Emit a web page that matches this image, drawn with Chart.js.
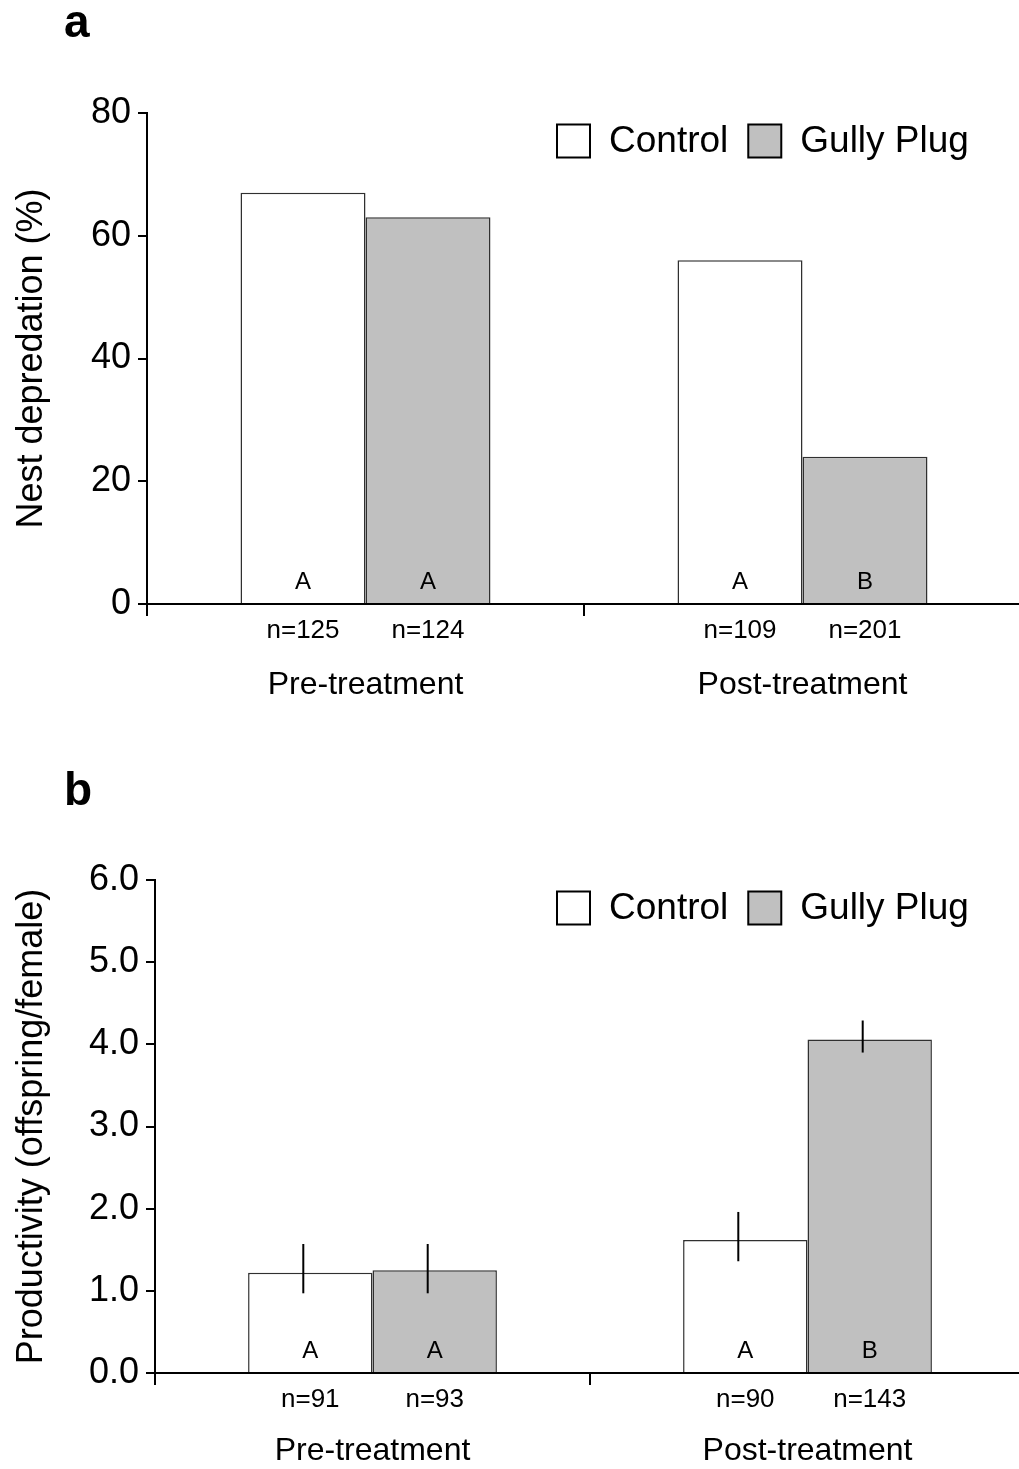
<!DOCTYPE html>
<html>
<head>
<meta charset="utf-8">
<script src="https://cdn.jsdelivr.net/npm/chart.js@4.4.1/dist/chart.umd.min.js"></script>
<style>
    html, body { margin: 0; padding: 0; background: #fff; overflow: hidden; width: 1019px; height: 1469px; }
    canvas { position: absolute; left: 0; }
    #chartA { top: 0; }
    #chartB { top: 745px; }
</style>
</head>
<body>
<canvas id="chartA" width="1021" height="740"></canvas>
<canvas id="chartB" width="1025" height="724"></canvas>
<script>
// Shared categories
const periods = ['Pre-treatment', 'Post-treatment'];
const seriesNames = ['Control', 'Gully Plug'];

// Panel a: nest depredation (%)
const depredTicks = [0, 20, 40, 60, 80];
const depredControl = [67, 56];
const depredGully = [63, 24];
const depredNControl = ['n=125', 'n=109'];
const depredNGully = ['n=124', 'n=201'];
const depredLetterControl = ['A', 'A'];
const depredLetterGully = ['A', 'B'];

// Panel b: productivity (offspring/female)
const prodTicks = [0, 1, 2, 3, 4, 5, 6];
const prodControl = [1.22, 1.62];
const prodGully = [1.25, 4.06];
const prodHiControl = [1.57, 1.96];
const prodLoControl = [0.97, 1.36];
const prodHiGully = [1.57, 4.29];
const prodLoGully = [0.97, 3.90];
const prodNControl = ['n=91', 'n=90'];
const prodNGully = ['n=93', 'n=143'];
const prodLetterControl = ['A', 'A'];
const prodLetterGully = ['A', 'B'];

const FONT = '"Liberation Sans", Arial, sans-serif';
const controlFill = '#ffffff';
const gullyFill = '#c0c0c0';
const barEdge = '#303030';

// letters in bars, n labels, error bars, legend and panel letter
const annotatePlugin = {
    id: 'annotate',
    afterDatasetsDraw(chart, args, opts) {
        const ctx = chart.ctx;
        const area = chart.chartArea;
        const yScale = chart.scales.y;
        ctx.save();
        chart.data.datasets.forEach((ds, i) => {
            const meta = chart.getDatasetMeta(i);
            meta.data.forEach((bar, j) => {
                // error bar
                if (ds.errHigh) {
                    const yHi = yScale.getPixelForValue(ds.errHigh[j]);
                    const yLo = yScale.getPixelForValue(ds.errLow[j]);
                    ctx.strokeStyle = '#000';
                    ctx.lineWidth = 2;
                    ctx.beginPath();
                    ctx.moveTo(bar.x - 7, yHi);
                    ctx.lineTo(bar.x - 7, yLo);
                    ctx.stroke();
                }
                ctx.fillStyle = '#000';
                ctx.textAlign = 'center';
                ctx.textBaseline = 'middle';
                ctx.font = '24px ' + FONT;
                ctx.fillText(ds.letters[j], bar.x, bar.base - 21);
                ctx.font = '26px ' + FONT;
                ctx.fillText(ds.nLabels[j], bar.x, bar.base + 28);
            });
        });

        // legend
        const ly = area.top + 28;
        const box = 33;
        let lx = 557;
        ctx.font = '37px ' + FONT;
        ctx.textAlign = 'left';
        ctx.textBaseline = 'middle';
        chart.data.datasets.forEach(ds => {
            ctx.fillStyle = ds.backgroundColor;
            ctx.fillRect(lx, ly - box / 2, box, box);
            ctx.strokeStyle = '#000';
            ctx.lineWidth = 2;
            ctx.strokeRect(lx, ly - box / 2, box, box);
            ctx.fillStyle = '#000';
            ctx.fillText(ds.label, lx + box + 19, ly + 1);
            lx += box + 19 + ctx.measureText(ds.label).width + 20;
        });

        // panel letter
        ctx.font = 'bold 46px ' + FONT;
        ctx.textBaseline = 'alphabetic';
        ctx.fillText(opts.letter, 64, opts.letterY);
        ctx.restore();
    }
};

function makeChart(id, cfg) {
    const ctx = document.getElementById(id).getContext('2d');
    return new Chart(ctx, {
        type: 'bar',
        data: {
            labels: periods,
            datasets: [
                {
                    label: seriesNames[0],
                    data: cfg.control,
                    backgroundColor: controlFill,
                    borderColor: barEdge,
                    borderWidth: 1.5,
                    borderSkipped: 'bottom',
                    nLabels: cfg.nControl,
                    letters: cfg.letterControl,
                    errHigh: cfg.hiControl,
                    errLow: cfg.loControl
                },
                {
                    label: seriesNames[1],
                    data: cfg.gully,
                    backgroundColor: gullyFill,
                    borderColor: barEdge,
                    borderWidth: 1.5,
                    borderSkipped: 'bottom',
                    nLabels: cfg.nGully,
                    letters: cfg.letterGully,
                    errHigh: cfg.hiGully,
                    errLow: cfg.loGully
                }
            ]
        },
        options: {
            responsive: false,
            animation: false,
            devicePixelRatio: 1,
            categoryPercentage: 0.572,
            barPercentage: 1,
            layout: { padding: { top: cfg.padTop, bottom: cfg.padBottom, left: 0, right: 0 } },
            plugins: {
                legend: { display: false },
                tooltip: { enabled: false },
                annotate: { letter: cfg.letter, letterY: cfg.letterY }
            },
            scales: {
                x: {
                    afterFit: s => { s.height = 90; },
                    grid: { display: true, drawOnChartArea: false, tickLength: 12, color: '#000', lineWidth: 2, offset: true },
                    border: { display: true, color: '#000', width: 2 },
                    ticks: { color: '#000', font: { family: FONT, size: 32 }, padding: cfg.xPad }
                },
                y: {
                    min: 0,
                    max: cfg.ticks[cfg.ticks.length - 1],
                    afterFit: s => { s.width = cfg.axisLeft; },
                    afterBuildTicks: s => { s.ticks = cfg.ticks.map(v => ({ value: v })); },
                    grid: { drawOnChartArea: false, tickLength: 9, color: '#000', lineWidth: 2 },
                    border: { display: true, color: '#000', width: 2 },
                    ticks: {
                        color: '#000',
                        padding: 7,
                        font: { family: FONT, size: 36 },
                        callback: cfg.tickFormat
                    },
                    title: {
                        display: true,
                        text: cfg.yTitle,
                        color: '#000',
                        font: { family: FONT, size: 36 },
                        padding: { top: 10, bottom: 0 }
                    }
                }
            }
        },
        plugins: [annotatePlugin]
    });
}

makeChart('chartA', {
    control: depredControl, gully: depredGully,
    nControl: depredNControl, nGully: depredNGully,
    letterControl: depredLetterControl, letterGully: depredLetterGully,
    ticks: depredTicks, tickFormat: v => String(v),
    yTitle: 'Nest depredation (%)',
    axisLeft: 147, padTop: 113, padBottom: 46, xPad: 50,
    letter: 'a', letterY: 37
});

makeChart('chartB', {
    control: prodControl, gully: prodGully,
    hiControl: prodHiControl, loControl: prodLoControl,
    hiGully: prodHiGully, loGully: prodLoGully,
    nControl: prodNControl, nGully: prodNGully,
    letterControl: prodLetterControl, letterGully: prodLetterGully,
    ticks: prodTicks, tickFormat: v => Number(v).toFixed(1),
    yTitle: 'Productivity (offspring/female)',
    axisLeft: 155, padTop: 135, padBottom: 6, xPad: 47,
    letter: 'b', letterY: 60
});
</script>
</body>
</html>
